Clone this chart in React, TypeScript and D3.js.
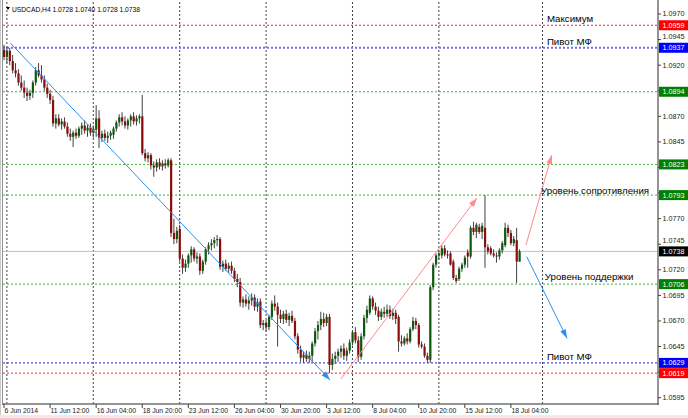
import React from 'react';
import * as d3 from 'd3';

// ---------- DATA ----------
const symbolTitle = 'USDCAD,H4';
const lastOHLC = ['1.0728', '1.0740', '1.0728', '1.0738'];

// H4 candles [open, high, low, close]
const candles: [number, number, number, number][] = [
  [1.0935,1.0940,1.0925,1.0928],[1.0928,1.0938,1.0922,1.0934],[1.0934,1.0937,1.0920,1.0924],[1.0924,1.0930,1.0912,1.0915],
  [1.0915,1.0922,1.0908,1.0912],[1.0912,1.0916,1.0900,1.0903],[1.0903,1.0910,1.0895,1.0898],[1.0898,1.0905,1.0888,1.0893],
  [1.0893,1.0898,1.0885,1.0890],[1.0890,1.0896,1.0886,1.0893],[1.0893,1.0905,1.0888,1.0903],[1.0903,1.0918,1.0900,1.0915],
  [1.0915,1.0922,1.0908,1.0910],[1.0910,1.0920,1.0903,1.0906],[1.0906,1.0910,1.0895,1.0898],[1.0898,1.0902,1.0888,1.0892],
  [1.0892,1.0896,1.0882,1.0886],[1.0886,1.0890,1.0860,1.0863],[1.0863,1.0872,1.0858,1.0868],[1.0868,1.0872,1.0860,1.0862],
  [1.0862,1.0868,1.0857,1.0865],[1.0865,1.0869,1.0858,1.0860],[1.0860,1.0864,1.0850,1.0853],[1.0853,1.0858,1.0846,1.0850],
  [1.0850,1.0856,1.0840,1.0854],[1.0854,1.0858,1.0848,1.0851],[1.0851,1.0860,1.0849,1.0858],[1.0858,1.0864,1.0852,1.0861],
  [1.0861,1.0866,1.0853,1.0856],[1.0856,1.0862,1.0850,1.0859],[1.0859,1.0863,1.0851,1.0854],[1.0854,1.0861,1.0849,1.0858],
  [1.0857,1.0881,1.0850,1.0868],[1.0868,1.0876,1.0839,1.0849],[1.0849,1.0856,1.0845,1.0853],[1.0853,1.0857,1.0846,1.0849],
  [1.0849,1.0855,1.0844,1.0851],[1.0851,1.0856,1.0847,1.0854],[1.0852,1.0860,1.0848,1.0858],[1.0858,1.0866,1.0855,1.0864],
  [1.0864,1.0872,1.0860,1.0869],[1.0869,1.0874,1.0861,1.0865],[1.0865,1.0870,1.0858,1.0861],[1.0861,1.0868,1.0857,1.0866],
  [1.0866,1.0872,1.0860,1.0870],[1.0870,1.0874,1.0862,1.0865],[1.0865,1.0871,1.0861,1.0868],[1.0868,1.0872,1.0863,1.0870],
  [1.0870,1.0891,1.0832,1.0834],[1.0834,1.0838,1.0826,1.0829],[1.0829,1.0835,1.0825,1.0832],[1.0832,1.0834,1.0818,1.0822],
  [1.0822,1.0826,1.0811,1.0820],[1.0820,1.0828,1.0816,1.0825],[1.0825,1.0829,1.0818,1.0821],[1.0821,1.0827,1.0817,1.0824],
  [1.0824,1.0828,1.0819,1.0822],[1.0822,1.0829,1.0820,1.0827],[1.0827,1.0829,1.0752,1.0756],[1.0756,1.0770,1.0745,1.0750],
  [1.0750,1.0762,1.0746,1.0758],[1.0760,1.0764,1.0728,1.0731],[1.0731,1.0735,1.0716,1.0722],[1.0722,1.0730,1.0718,1.0726],
  [1.0726,1.0736,1.0722,1.0734],[1.0734,1.0743,1.0727,1.0740],[1.0740,1.0742,1.0728,1.0731],[1.0731,1.0737,1.0726,1.0733],
  [1.0733,1.0736,1.0715,1.0719],[1.0719,1.0730,1.0716,1.0728],[1.0728,1.0742,1.0725,1.0740],[1.0740,1.0747,1.0735,1.0744],
  [1.0744,1.0750,1.0739,1.0746],[1.0746,1.0752,1.0741,1.0749],[1.0749,1.0754,1.0743,1.0750],[1.0750,1.0752,1.0720,1.0723],
  [1.0723,1.0729,1.0718,1.0726],[1.0726,1.0730,1.0719,1.0721],[1.0721,1.0727,1.0717,1.0724],[1.0724,1.0728,1.0716,1.0719],
  [1.0719,1.0722,1.0708,1.0711],[1.0711,1.0716,1.0703,1.0708],[1.0708,1.0712,1.0684,1.0688],[1.0688,1.0694,1.0683,1.0691],
  [1.0691,1.0696,1.0684,1.0687],[1.0687,1.0694,1.0681,1.0690],[1.0690,1.0697,1.0685,1.0693],[1.0693,1.0696,1.0680,1.0684],
  [1.0684,1.0692,1.0679,1.0688],[1.0689,1.0692,1.0663,1.0666],[1.0666,1.0671,1.0661,1.0668],[1.0668,1.0671,1.0660,1.0664],
  [1.0664,1.0676,1.0661,1.0674],[1.0674,1.0690,1.0671,1.0687],[1.0687,1.0695,1.0680,1.0684],[1.0684,1.0688,1.0645,1.0676],
  [1.0676,1.0681,1.0668,1.0672],[1.0672,1.0680,1.0667,1.0677],[1.0677,1.0681,1.0668,1.0671],[1.0671,1.0678,1.0665,1.0675],
  [1.0675,1.0680,1.0668,1.0670],[1.0670,1.0673,1.0652,1.0655],[1.0655,1.0658,1.0638,1.0642],[1.0642,1.0646,1.0630,1.0634],
  [1.0634,1.0640,1.0629,1.0637],[1.0637,1.0641,1.0630,1.0633],[1.0633,1.0640,1.0629,1.0636],[1.0636,1.0650,1.0630,1.0648],
  [1.0648,1.0663,1.0645,1.0660],[1.0660,1.0670,1.0652,1.0666],[1.0666,1.0679,1.0661,1.0672],[1.0672,1.0678,1.0664,1.0668],
  [1.0668,1.0677,1.0665,1.0674],[1.0674,1.0677,1.0619,1.0627],[1.0627,1.0638,1.0622,1.0633],[1.0633,1.0640,1.0628,1.0636],
  [1.0636,1.0643,1.0630,1.0640],[1.0640,1.0646,1.0634,1.0643],[1.0643,1.0648,1.0632,1.0636],[1.0636,1.0644,1.0631,1.0641],
  [1.0641,1.0652,1.0638,1.0649],[1.0649,1.0661,1.0646,1.0659],[1.0659,1.0664,1.0648,1.0651],[1.0651,1.0655,1.0630,1.0635],
  [1.0635,1.0658,1.0632,1.0655],[1.0655,1.0676,1.0652,1.0673],[1.0673,1.0685,1.0668,1.0681],[1.0678,1.0695,1.0676,1.0692],
  [1.0692,1.0694,1.0681,1.0684],[1.0684,1.0688,1.0676,1.0680],[1.0680,1.0684,1.0670,1.0674],[1.0674,1.0682,1.0671,1.0679],
  [1.0679,1.0684,1.0673,1.0677],[1.0677,1.0686,1.0674,1.0681],[1.0681,1.0685,1.0672,1.0675],[1.0675,1.0682,1.0671,1.0678],
  [1.0678,1.0681,1.0667,1.0672],[1.0674,1.0676,1.0640,1.0650],[1.0650,1.0656,1.0645,1.0648],[1.0648,1.0655,1.0646,1.0653],
  [1.0653,1.0658,1.0647,1.0650],[1.0650,1.0664,1.0648,1.0662],[1.0662,1.0674,1.0660,1.0670],[1.0670,1.0673,1.0662,1.0666],
  [1.0666,1.0668,1.0644,1.0647],[1.0647,1.0650,1.0643,1.0645],[1.0645,1.0648,1.0634,1.0636],[1.0636,1.0639,1.0629,1.0632],
  [1.0632,1.0705,1.0629,1.0703],[1.0703,1.0727,1.0700,1.0725],[1.0725,1.0736,1.0722,1.0734],[1.0734,1.0739,1.0730,1.0736],
  [1.0734,1.0744,1.0731,1.0741],[1.0741,1.0744,1.0733,1.0735],[1.0735,1.0739,1.0731,1.0734],[1.0736,1.0738,1.0724,1.0725],
  [1.0728,1.0730,1.0710,1.0712],[1.0712,1.0715,1.0707,1.0709],[1.0711,1.0723,1.0709,1.0721],[1.0721,1.0727,1.0718,1.0725],
  [1.0725,1.0734,1.0722,1.0732],[1.0737,1.0740,1.0722,1.0733],[1.0733,1.0763,1.0731,1.0761],[1.0761,1.0767,1.0754,1.0757],
  [1.0757,1.0766,1.0751,1.0764],[1.0762,1.0765,1.0755,1.0757],[1.0757,1.0766,1.0750,1.0763],[1.0761,1.0793,1.0722,1.0742],
  [1.0742,1.0745,1.0735,1.0738],[1.0741,1.0743,1.0734,1.0736],[1.0736,1.0740,1.0732,1.0734],[1.0734,1.0737,1.0727,1.0733],
  [1.0733,1.0741,1.0730,1.0739],[1.0739,1.0748,1.0736,1.0746],[1.0744,1.0766,1.0742,1.0761],[1.0761,1.0764,1.0752,1.0756],
  [1.0756,1.0759,1.0744,1.0746],[1.0746,1.0753,1.0743,1.0750],[1.0749,1.0761,1.0707,1.0728],[1.0728,1.0740,1.0728,1.0738],
];

const timeLabels = ['6 Jun 2014','11 Jun 12:00','16 Jun 04:00','18 Jun 20:00','23 Jun 12:00','26 Jun 04:00',
  '30 Jun 20:00','3 Jul 12:00','8 Jul 04:00','10 Jul 20:00','15 Jul 12:00','18 Jul 04:00'];
const timeLabelBars = [0,16,32,48,64,80,96,112,128,144,160,176];
const gridBars = [1,31,61,91,121,151,187];

const priceTicks = [1.0595,1.0620,1.0645,1.0670,1.0695,1.0720,1.0745,1.0770,1.0795,1.0820,1.0845,1.0870,1.0895,1.0920,1.0945,1.0970];

const levelPrices = [1.0959, 1.0937, 1.0894, 1.0823, 1.0793, 1.0706, 1.0629, 1.0619];
const levelKinds  = ['max', 'pivotTop', 'sr', 'sr', 'sr', 'sr', 'pivotBot', 'max'];
const currentPrice = 1.0738;

const noteTexts  = ['Максимум', 'Пивот МФ', 'Уровень сопротивления', 'Уровень поддержки', 'Пивот МФ'];
const noteBars   = [188.5, 188.5, 186.5, 187.8, 188.5];
const notePrices = [1.0962, 1.0940, 1.0794, 1.0710, 1.0632];

// arrows: [barFrom, priceFrom, barTo, priceTo]
const arrowLines: [number, number, number, number][] = [
  [2.3, 1.09414, 113.2, 1.06124],
  [117.0, 1.06134, 164.2, 1.07902],
  [181.25, 1.07443, 190.2, 1.08322],
  [181.5, 1.07329, 195.5, 1.06530],
];
const arrowKinds = ['down', 'up', 'up', 'down'];

// ---------- STYLE ----------
const W = 688, H = 418;
const plotL = 3, plotR = 658, plotT = 2, plotB = 404;
const levelStyle: Record<string, { color: string; width: number; dash: string; box: string }> = {
  max: { color: '#ff2020', width: 1, dash: '2,2', box: '#ff0000' },
  pivotTop: { color: '#6f6fff', width: 2, dash: '2,2', box: '#0000ff' },
  pivotBot: { color: '#2020e0', width: 1, dash: '2,2', box: '#0000ff' },
  sr: { color: '#40b040', width: 1, dash: '2,2', box: '#008000' },
};
const arrowColor: Record<string, string> = { down: '#2a8ff0', up: '#ff8a8a' };
const bullColor = '#0d5a0d';
const bearColor = '#8a0d0d';
const wickColor = '#404040';
const axisFont = "'Liberation Sans', Arial, sans-serif";
const boxHalf = 5;

export default function App() {
  const x = d3.scaleLinear().domain([0, 179]).range([4, 4 + 179 * 2.88]);
  const y = d3.scaleLinear().domain([1.0595, 1.0970]).range([397.7, 14]);
  const fmt = d3.format('.4f');

  const boxPrices = [...levelPrices, currentPrice];
  // tick labels fully covered by a coloured price box are hidden (as in the terminal);
  // partially covered ones are nudged clear of the box
  const visibleTicks = priceTicks.filter(p => boxPrices.every(b => Math.abs(y(b) - y(p)) > 6));
  const tickShift = (p: number) => {
    let s = 0;
    boxPrices.forEach(b => {
      const d = y(b) - y(p);
      if (d > 0 && d < 11) s = Math.min(s, d - 11);
      if (d < 0 && d > -11) s = Math.max(s, d + 11);
    });
    return s;
  };

  const arrowHead = (x1: number, y1: number, x2: number, y2: number) => {
    const a = Math.atan2(y2 - y1, x2 - x1);
    const len = 9, hw = 3;
    const bx = x2 - len * Math.cos(a), by = y2 - len * Math.sin(a);
    const px = -Math.sin(a) * hw, py = Math.cos(a) * hw;
    return `M${x2},${y2}L${bx + px},${by + py}L${bx - px},${by - py}Z`;
  };

  return (
    <svg width={W} height={H} style={{ position: 'absolute', left: 0, top: 0, background: '#fff' }}
      fontFamily={axisFont}>
      <defs>
        <clipPath id="plot"><rect x={plotL} y={plotT} width={plotR - plotL} height={plotB - plotT} /></clipPath>
      </defs>
      <rect x={0} y={0} width={W} height={H} fill="#fff" />
      <rect x={0} y={415} width={W} height={3} fill="#ececec" />

      <g clipPath="url(#plot)">
        {gridBars.map((b, k) => (
          <line key={'g' + k} x1={x(b)} x2={x(b)} y1={plotT} y2={plotB} stroke="#404040" strokeWidth={1} strokeDasharray="2,2" />
        ))}
        <line x1={plotL} x2={plotR} y1={y(currentPrice)} y2={y(currentPrice)} stroke="#c0c0c0" strokeWidth={1} />
        {levelPrices.map((p, k) => {
          const s = levelStyle[levelKinds[k]];
          return <line key={'l' + k} x1={plotL} x2={plotR} y1={y(p)} y2={y(p)} stroke={s.color} strokeWidth={s.width} strokeDasharray={s.dash} />;
        })}
        {candles.map(([o, h, l, c], i) => {
          const cx = x(i);
          const bull = c >= o;
          const top = y(Math.max(o, c));
          const bot = y(Math.min(o, c));
          return (
            <g key={'c' + i}>
              <line x1={cx} x2={cx} y1={y(h)} y2={y(l)} stroke={wickColor} strokeWidth={1} />
              <rect x={cx - 1} y={top} width={2.2} height={Math.max(1, bot - top)} fill={bull ? bullColor : bearColor} />
            </g>
          );
        })}
        {arrowLines.map(([b1, p1, b2, p2], k) => {
          const x1 = x(b1), y1 = y(p1), x2 = x(b2), y2 = y(p2);
          const col = arrowColor[arrowKinds[k]];
          return (
            <g key={'a' + k}>
              <line x1={x1} y1={y1} x2={x2} y2={y2} stroke={col} strokeWidth={1} />
              <path d={arrowHead(x1, y1, x2, y2)} fill={col} />
            </g>
          );
        })}
        {noteTexts.map((t, k) => (
          <text key={'n' + k} x={x(noteBars[k])} y={y(notePrices[k])} fontSize={9.7} fill="#000">{t}</text>
        ))}
      </g>

      <path d="M6,7L10,7L8,10Z" fill="#000" />
      <text x={12} y={11.5} fontSize={6.7} fill="#000">
        {symbolTitle}{'  '}{lastOHLC.join(' ')}
      </text>

      <line x1={0.5} x2={0.5} y1={0} y2={415} stroke="#c8c8c8" />
      <line x1={2.5} x2={2.5} y1={0} y2={405} stroke="#909090" />
      <line x1={plotR} x2={plotR} y1={0} y2={plotB + 1} stroke="#707070" strokeWidth={1.5} />
      <line x1={2} x2={plotR + 0.75} y1={plotB} y2={plotB} stroke="#707070" strokeWidth={1.5} />

      {priceTicks.map((p, k) => (
        <line key={'ptm' + k} x1={plotR} x2={plotR + 3} y1={y(p)} y2={y(p)} stroke="#404040" />
      ))}
      {visibleTicks.map((p, k) => (
        <text key={'pt' + k} x={662.5} y={y(p) + 2.4 + tickShift(p)} fontSize={7.2} fill="#202020">{fmt(p)}</text>
      ))}
      {levelPrices.map((p, k) => {
        const s = levelStyle[levelKinds[k]];
        return (
          <g key={'lb' + k}>
            <rect x={plotR + 1} y={y(p) - boxHalf} width={W - plotR - 1} height={boxHalf * 2} fill={s.box} />
            <text x={662.5} y={y(p) + 2.4} fontSize={7.2} fill="#fff">{fmt(p)}</text>
          </g>
        );
      })}
      <g>
        <rect x={plotR + 1} y={y(currentPrice) - boxHalf} width={W - plotR - 1} height={boxHalf * 2} fill="#000" />
        <text x={662.5} y={y(currentPrice) + 2.4} fontSize={7.2} fill="#fff">{fmt(currentPrice)}</text>
      </g>

      {timeLabelBars.map((b, k) => (
        <g key={'tt' + k}>
          <line x1={x(b)} x2={x(b)} y1={plotB} y2={plotB + 4} stroke="#404040" />
          <text x={x(b) + 0.5} y={413} fontSize={6.8} fill="#202020">{timeLabels[k]}</text>
        </g>
      ))}
    </svg>
  );
}
